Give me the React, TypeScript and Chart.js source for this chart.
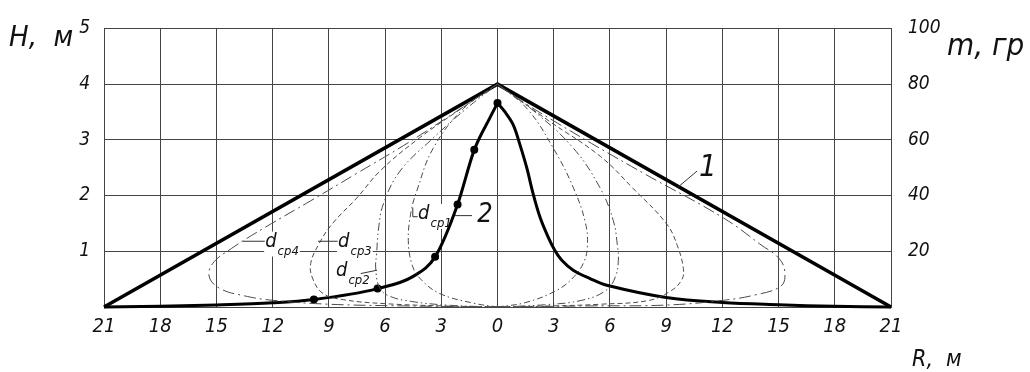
import React, { useEffect, useRef } from 'react';
import { Chart, registerables } from 'chart.js';

Chart.register(...registerables);

const FONT = '"Liberation Sans Narrow", "DejaVu Sans Condensed", "DejaVu Sans", sans-serif';

// Axes
const R_MIN = -21;
const R_MAX = 21;
const R_STEP = 3;
const H_MIN = 0;
const H_MAX = 5;
const M_MIN = 0;
const M_MAX = 100;
const M_STEP = 20;

// Curve 1: pile profile (triangle)
const tri_R = [-21, 0, 21];
const tri_H = [0, 4, 0];

// Curve 2: mass distribution (left half with measured points)
const c2L_R = [-21, -18, -15, -12, -9.8, -6.4, -4.5, -3.33, -2.13, -1.24, -0.4, 0];
const c2L_H = [0, 0.012, 0.035, 0.075, 0.135, 0.33, 0.55, 0.9, 1.84, 2.82, 3.4, 3.66];
const c2L_dot = [0, 0, 0, 0, 1, 1, 0, 1, 1, 1, 0, 1];
// Curve 2 right half
const c2R_R = [0, 0.4, 0.84, 1.2, 1.56, 1.91, 2.27, 2.71, 3.07, 3.43, 4.04, 4.94, 5.83, 9.0, 12, 15, 18, 21];
const c2R_H = [3.66, 3.5, 3.27, 2.91, 2.5, 2.02, 1.61, 1.25, 1.01, 0.84, 0.66, 0.51, 0.39, 0.17, 0.08, 0.04, 0.012, 0];

// d_cp1 loop
const cp1L_R = [0, -1.3, -3.07, -4.1, -4.55, -4.76, -4.62, -4.31, -3.43, -1.82, 0];
const cp1L_H = [0, 0.07, 0.24, 0.5, 0.75, 1.19, 1.7, 2.08, 2.85, 3.56, 4];
const cp1R_R = [0, 1.5, 3.16, 4.1, 4.6, 4.79, 4.7, 4.05, 2.98, 1.6, 0];
const cp1R_H = [0, 0.08, 0.3, 0.55, 0.8, 1.07, 1.5, 2.14, 2.85, 3.55, 4];

// d_cp2 loop
const cp2L_R = [0, -2.5, -4.6, -5.8, -6.3, -6.5, -6.45, -6.35, -6.09, -5.2, -3.44, -1.7, 0];
const cp2L_H = [0, 0.03, 0.1, 0.2, 0.35, 0.7, 0.96, 1.4, 1.85, 2.44, 3.03, 3.55, 4];
const cp2R_R = [0, 2.5, 4.5, 5.8, 6.3, 6.45, 6.4, 6.18, 5.47, 4.05, 2, 0];
const cp2R_H = [0, 0.04, 0.12, 0.3, 0.55, 0.84, 1.1, 1.55, 2.14, 2.85, 3.5, 4];

// d_cp3 loop
const cp3L_R = [0, -3, -6, -8.2, -9.3, -9.85, -9.97, -9.5, -8.8, -7.5, -6.27, -4.3, -2.2, 0];
const cp3L_H = [0, 0.02, 0.06, 0.13, 0.24, 0.5, 0.78, 1.15, 1.5, 1.96, 2.44, 3.0, 3.5, 4];
const cp3R_R = [0, 3, 5.5, 8.1, 9.3, 9.85, 9.92, 9.6, 9.03, 7.2, 5.5, 2.7, 0];
const cp3R_H = [0, 0.02, 0.05, 0.12, 0.3, 0.5, 0.69, 1.1, 1.49, 2.14, 2.7, 3.35, 4];

// d_cp4 loop
const cp4L_R = [0, -5, -9, -12, -13.5, -14.8, -15.38, -15.2, -14.2, -12.3, -10, -7.5, -5, -2.6, 0];
const cp4L_H = [0, 0.02, 0.05, 0.12, 0.2, 0.33, 0.54, 0.78, 1.05, 1.45, 1.9, 2.4, 2.9, 3.42, 4];
const cp4R_R = [0, 5, 9.03, 12.05, 13.8, 15.07, 15.34, 15.1, 14.0, 12.05, 7.9, 5.2, 3.2, 1.5, 0];
const cp4R_H = [0, 0.02, 0.035, 0.12, 0.22, 0.36, 0.54, 0.84, 1.13, 1.6, 2.38, 2.9, 3.3, 3.65, 4];

// Annotation labels (data units)
const LABEL_MAIN = ['d', 'd', 'd', 'd'];
const LABEL_SUB = ['cp4', 'cp3', 'cp2', 'cp1'];
const LABEL_R = [-12.4, -8.51, -8.62, -4.24];
const LABEL_H = [1.085, 1.085, 0.55, 1.58];

const LEADERS: number[][][] = [
  [[-13.58, 1.18], [-12.42, 1.18]],
  [[-9.58, 1.18], [-8.53, 1.18]],
  [[-7.3, 0.6], [-6.43, 0.66]],
  [[-4.52, 1.78], [-4.52, 1.62], [-4.26, 1.62]],
  [[-2.27, 1.64], [-1.36, 1.64]],
  [[9.63, 2.15], [10.65, 2.44]],
];
const NUM_TEXT = ['1', '2'];
const NUM_R = [11.23, -0.67];
const NUM_H = [2.35, 1.53];
const NUM_SIZE = [31, 27];

const pts = (xs: number[], ys: number[]) => xs.map((x, i) => ({ x, y: ys[i] }));

const loop = (xs: number[], ys: number[], dash: number[]) => ({
  type: 'scatter' as const,
  data: pts(xs, ys),
  showLine: true,
  borderColor: '#4a4a4a',
  borderWidth: 1,
  borderDash: dash,
  pointRadius: 0,
  tension: 0.4,
  clip: false as any,
  yAxisID: 'y',
});

const DASH1 = [6, 3, 1.5, 3];
const DASH2 = [8, 3, 1.5, 3, 1.5, 3];
const DASH3 = [5, 3];
const DASH4 = [12, 4, 2, 4];

export default function App() {
  const ref = useRef<HTMLCanvasElement | null>(null);

  useEffect(() => {
    document.body.style.margin = '0';
    const canvas = ref.current!;
    const labelFont = (size: number) => `italic ${size}px ${FONT}`;

    const labelBox = (ctx: CanvasRenderingContext2D, i: number, xs: any, ys: any) => {
      const px = xs.getPixelForValue(LABEL_R[i]);
      const py = ys.getPixelForValue(LABEL_H[i]);
      ctx.font = labelFont(20);
      const w1 = ctx.measureText(LABEL_MAIN[i]).width;
      ctx.font = labelFont(13);
      const w2 = ctx.measureText(LABEL_SUB[i]).width;
      return { px, py, w1, w2 };
    };

    const annPlugin = {
      id: 'ann',
      beforeDatasetsDraw(chart: any) {
        const ctx = chart.ctx as CanvasRenderingContext2D;
        const xs = chart.scales.x;
        const ys = chart.scales.y;
        ctx.save();
        ctx.fillStyle = '#fff';
        for (let i = 0; i < LABEL_MAIN.length; i++) {
          const { px, py, w1, w2 } = labelBox(ctx, i, xs, ys);
          ctx.fillRect(px - 1, py - 15, w1 + w2 + 3, 25);
        }
        for (let i = 0; i < NUM_TEXT.length; i++) {
          const px = xs.getPixelForValue(NUM_R[i]);
          const py = ys.getPixelForValue(NUM_H[i]);
          ctx.font = labelFont(NUM_SIZE[i]);
          const w = ctx.measureText(NUM_TEXT[i]).width;
          ctx.fillRect(px - w / 2 - 1, py - NUM_SIZE[i] * 0.75, w + 2, NUM_SIZE[i] * 0.8);
        }
        ctx.restore();
      },
      afterDatasetsDraw(chart: any) {
        const ctx = chart.ctx as CanvasRenderingContext2D;
        const xs = chart.scales.x;
        const ys = chart.scales.y;
        ctx.save();
        ctx.strokeStyle = '#333';
        ctx.lineWidth = 1;
        for (const seg of LEADERS) {
          ctx.beginPath();
          seg.forEach((p, k) => {
            const X = xs.getPixelForValue(p[0]);
            const Y = ys.getPixelForValue(p[1]);
            if (k === 0) ctx.moveTo(X, Y);
            else ctx.lineTo(X, Y);
          });
          ctx.stroke();
        }
        ctx.fillStyle = '#111';
        ctx.textBaseline = 'alphabetic';
        ctx.textAlign = 'left';
        for (let i = 0; i < LABEL_MAIN.length; i++) {
          const { px, py, w1 } = labelBox(ctx, i, xs, ys);
          ctx.font = labelFont(20);
          ctx.fillText(LABEL_MAIN[i], px, py);
          ctx.font = labelFont(13);
          ctx.fillText(LABEL_SUB[i], px + w1 + 1, py + 8);
        }
        ctx.textAlign = 'center';
        for (let i = 0; i < NUM_TEXT.length; i++) {
          const px = xs.getPixelForValue(NUM_R[i]);
          const py = ys.getPixelForValue(NUM_H[i]);
          ctx.font = labelFont(NUM_SIZE[i]);
          ctx.fillText(NUM_TEXT[i], px, py);
        }
        ctx.restore();
      },
      afterDraw(chart: any) {
        const ctx = chart.ctx as CanvasRenderingContext2D;
        const a = chart.chartArea;
        ctx.save();
        ctx.fillStyle = '#111';
        ctx.textAlign = 'left';
        ctx.textBaseline = 'alphabetic';
        ctx.font = labelFont(29);
        ctx.fillText('H,  м', 9, a.top + 18);
        ctx.font = labelFont(31);
        ctx.fillText('m, гр', a.right + 56, a.top + 27);
        ctx.font = labelFont(23);
        ctx.fillText('R,  м', a.right + 21, a.bottom + 59);
        ctx.restore();
      },
    };

    const chart = new Chart(canvas, {
      type: 'scatter',
      data: {
        datasets: [
          loop(cp1L_R, cp1L_H, DASH1),
          loop(cp1R_R, cp1R_H, DASH1),
          loop(cp2L_R, cp2L_H, DASH2),
          loop(cp2R_R, cp2R_H, DASH2),
          loop(cp3L_R, cp3L_H, DASH3),
          loop(cp3R_R, cp3R_H, DASH3),
          loop(cp4L_R, cp4L_H, DASH4),
          loop(cp4R_R, cp4R_H, DASH4),
          {
            data: pts(c2L_R, c2L_H),
            showLine: true,
            borderColor: '#000',
            backgroundColor: '#000',
            borderWidth: 3,
            pointRadius: c2L_dot.map((d) => (d ? 4 : 0)),
            pointBorderWidth: 0,
            cubicInterpolationMode: 'monotone',
            clip: false as any,
            yAxisID: 'y',
          },
          {
            data: pts(c2R_R, c2R_H),
            showLine: true,
            borderColor: '#000',
            borderWidth: 3,
            pointRadius: 0,
            tension: 0.35,
            clip: false as any,
            yAxisID: 'y',
          },
          {
            data: pts(tri_R, tri_H),
            showLine: true,
            borderColor: '#000',
            borderWidth: 3.5,
            pointRadius: 0,
            tension: 0,
            clip: false as any,
            yAxisID: 'y',
          },
        ] as any,
      },
      options: {
        animation: false,
        responsive: false,
        layout: { padding: { top: 26, left: 0, right: 0, bottom: 0 } },
        plugins: { legend: { display: false }, tooltip: { enabled: false } },
        scales: {
          x: {
            type: 'linear',
            min: R_MIN,
            max: R_MAX,
            ticks: {
              stepSize: R_STEP,
              padding: 8,
              color: '#111',
              font: { family: FONT, size: 20, style: 'italic' },
              callback: (v: any) => String(Math.abs(Number(v))),
              maxRotation: 0,
              autoSkip: false,
            },
            grid: { color: '#444', lineWidth: 1, drawTicks: false },
            border: { color: '#444', width: 1 },
            afterFit: (s: any) => {
              s.height = 65;
            },
          },
          y: {
            type: 'linear',
            position: 'left',
            min: H_MIN,
            max: H_MAX,
            ticks: {
              stepSize: 1,
              padding: 14,
              color: '#111',
              font: { family: FONT, size: 19, style: 'italic' },
              callback: (v: any) => (Number(v) === 0 ? '' : String(v)),
            },
            grid: { color: '#444', lineWidth: 1, drawTicks: false },
            border: { color: '#444', width: 1 },
            afterFit: (s: any) => {
              s.width = 104;
            },
          },
          y2: {
            type: 'linear',
            position: 'right',
            min: M_MIN,
            max: M_MAX,
            ticks: {
              stepSize: M_STEP,
              padding: 17,
              color: '#111',
              font: { family: FONT, size: 19, style: 'italic' },
              callback: (v: any) => (Number(v) === 0 ? '' : String(v)),
            },
            grid: { display: false, drawTicks: false },
            border: { color: '#444', width: 1 },
            afterFit: (s: any) => {
              s.width = 139;
            },
          },
        },
      } as any,
      plugins: [annPlugin],
    });
    return () => chart.destroy();
  }, []);

  return (
    <div style={{ position: 'absolute', left: 0, top: 0, width: 1030, height: 372, background: '#fff' }}>
      <canvas ref={ref} width={1030} height={372} style={{ display: 'block' }} />
    </div>
  );
}
